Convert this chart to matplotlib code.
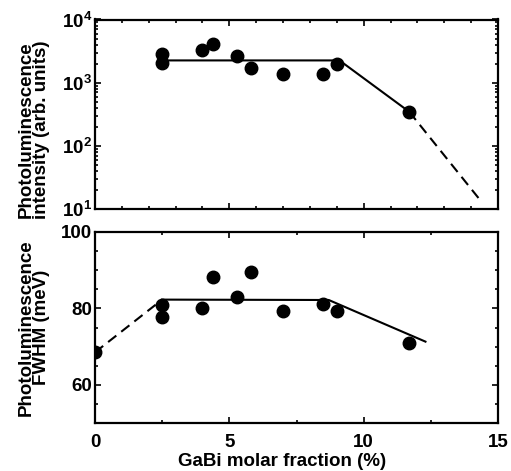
import numpy as np
import matplotlib
matplotlib.use("Agg")
import matplotlib.pyplot as plt
from matplotlib.ticker import MultipleLocator, LogLocator, FixedLocator, NullFormatter

plt.rcParams['font.family'] = ['Liberation Sans', 'DejaVu Sans']
plt.rcParams['font.weight'] = 'bold'
plt.rcParams['mathtext.fontset'] = 'custom'
plt.rcParams['mathtext.rm'] = 'Liberation Sans:bold'
plt.rcParams['mathtext.it'] = 'Liberation Sans:bold'
plt.rcParams['mathtext.bf'] = 'Liberation Sans:bold'

# GaBi molar fraction (%)
x_pl = [2.5, 2.5, 4.0, 4.4, 5.3, 5.8, 7.0, 8.5, 9.0, 11.7]
intensity = [2830, 2020, 3280, 4040, 2630, 1680, 1370, 1370, 1970, 345]

x_fw = [0.0, 2.5, 2.5, 4.0, 4.4, 5.3, 5.8, 7.0, 8.5, 9.0, 11.7]
fwhm = [68.5, 80.9, 77.7, 80.1, 88.1, 83.0, 89.6, 79.4, 81.1, 79.2, 70.9]

# guide lines
int_solid_x = [2.5, 9.1, 11.7]
int_solid_y = [2250, 2250, 345]
int_dash_x = [11.7, 14.4]
int_dash_y = [345, 12.8]

fw_dash_x = [0.0, 2.5]
fw_dash_y = [68.5, 82.3]
fw_solid_x = [2.5, 8.7, 12.3]
fw_solid_y = [82.3, 82.2, 71.3]

fig = plt.figure(figsize=(5.11, 4.71), dpi=100)
W, H = 511.0, 471.0
ax1 = fig.add_axes([95 / W, 1 - 209 / H, (498 - 95) / W, (209 - 19.5) / H])
ax2 = fig.add_axes([95 / W, 1 - 423 / H, (498 - 95) / W, (423 - 232) / H])

ms = 9
lw = 1.5

ax1.set_yscale('log')
ax1.plot(x_pl, intensity, 'o', color='black', ms=ms)
ax1.plot(int_solid_x, int_solid_y, '-', color='black', lw=lw)
ax1.plot(int_dash_x, int_dash_y, '--', color='black', lw=lw, dashes=(5, 3))
ax1.set_xlim(0, 15)
ax1.set_ylim(10, 1e4)
ax1.xaxis.set_major_locator(MultipleLocator(5))
ax1.xaxis.set_minor_locator(MultipleLocator(1))
ax1.xaxis.set_major_formatter(NullFormatter())
ax1.yaxis.set_major_locator(FixedLocator([10, 100, 1000, 10000]))
ax1.yaxis.set_minor_locator(LogLocator(base=10, subs=np.arange(2, 10)))
ax1.yaxis.set_minor_formatter(NullFormatter())
ax1.set_yticklabels([r'$10^{1}$', r'$10^{2}$', r'$10^{3}$', r'$10^{4}$'])
ax1.set_ylabel('Photoluminescence\nintensity (arb. units)', fontsize=13.5,
               fontweight='bold', linespacing=0.85)
ax1.yaxis.set_label_coords(-0.112, 0.42)

ax2.plot(x_fw, fwhm, 'o', color='black', ms=ms)
ax2.plot(fw_solid_x, fw_solid_y, '-', color='black', lw=lw)
ax2.plot(fw_dash_x, fw_dash_y, '--', color='black', lw=lw, dashes=(5, 3))
ax2.set_xlim(0, 15)
ax2.set_ylim(50, 100)
ax2.xaxis.set_major_locator(MultipleLocator(5))
ax2.xaxis.set_minor_locator(MultipleLocator(2.5))
ax2.yaxis.set_major_locator(MultipleLocator(20))
ax2.yaxis.set_minor_locator(MultipleLocator(5))
ax2.set_ylabel('Photoluminescence\nFWHM (meV)', fontsize=13.5,
               fontweight='bold', linespacing=0.85)
ax2.yaxis.set_label_coords(-0.112, 0.5)
ax2.set_xlabel('GaBi molar fraction (%)', fontsize=13.5, fontweight='bold')
ax2.xaxis.set_label_coords(0.465, -0.155)

for ax in (ax1, ax2):
    for s in ax.spines.values():
        s.set_linewidth(1.6)
    ax.tick_params(which='both', direction='in', top=True, right=True,
                   width=1.2, labelsize=13.5)
    ax.tick_params(axis='y', pad=2)
    ax.tick_params(axis='x', pad=8)
    ax.tick_params(which='major', length=4)
    ax.tick_params(which='minor', length=2.5)

fig.savefig('out.png', dpi=100)
